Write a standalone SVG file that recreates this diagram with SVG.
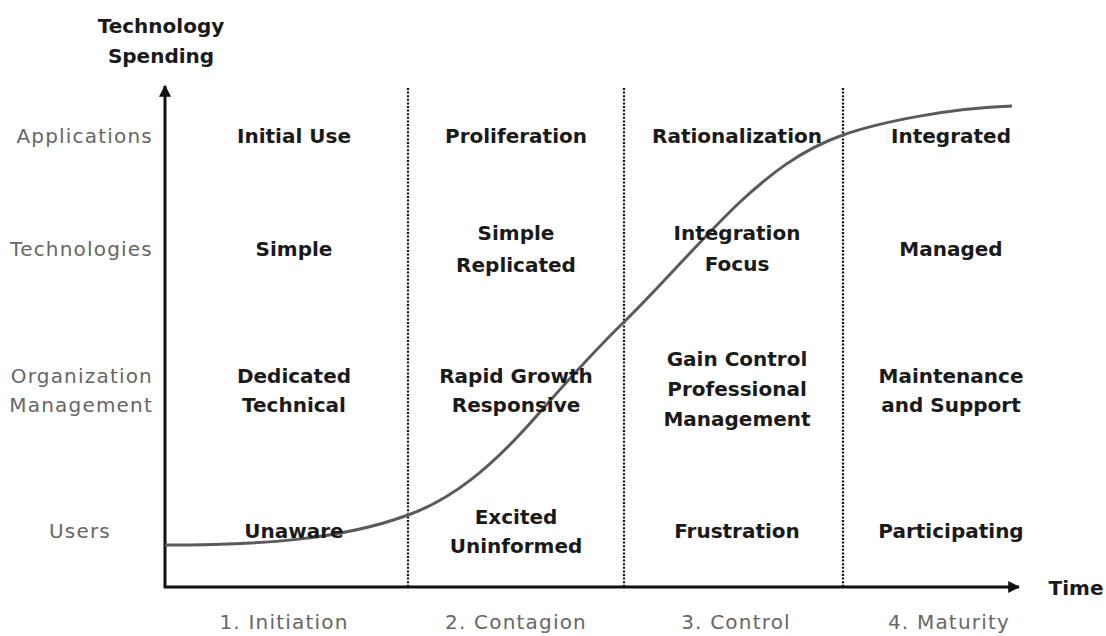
<svg xmlns="http://www.w3.org/2000/svg" width="1106" height="636" viewBox="0 0 1106 636">
<style>
.lbl{font-family:"DejaVu Sans",Verdana,sans-serif;font-size:20px;fill:#666;letter-spacing:1.2px}
.b{font-family:"DejaVu Sans",Verdana,sans-serif;font-size:20px;font-weight:bold;fill:#1a1a1a;text-anchor:middle}
.axis{stroke:#111;stroke-width:3;fill:none}
.dot{stroke:#111;stroke-width:2.2;stroke-dasharray:2 1.6;fill:none}
</style>
<defs>
<marker id="ah" viewBox="0 0 10 10" refX="9" refY="5" markerWidth="4" markerHeight="4" orient="auto" markerUnits="strokeWidth">
<path d="M0,0 L10,5 L0,10 z" fill="#111"/>
</marker>
</defs>
<rect width="1106" height="636" fill="#fff"/>
<g id="connectors">
<line class="dot" x1="408" y1="88" x2="408" y2="586"/>
<line class="dot" x1="624" y1="88" x2="624" y2="586"/>
<line class="dot" x1="843" y1="88" x2="843" y2="586"/>
<line class="axis" x1="165" y1="588" x2="165" y2="86" marker-end="url(#ah)"/>
<line class="axis" x1="164" y1="587" x2="1019" y2="587" marker-end="url(#ah)"/>
<path d="M165,545 C260,545 340,540 408,515 C450,500 490,470 540,412 C570,378 595,350 623,323 C660,287 700,240 740,202 C768,176 800,150 843,135 C880,122 950,108 1012,106" fill="none" stroke="#5a5a5a" stroke-width="3"/>
</g>
<g id="axis-titles">
<text class="b" x="161" y="33">Technology</text>
<text class="b" x="161" y="63">Spending</text>
<text class="b" x="1076" y="595">Time</text>
</g>
<g id="row-labels">
<text class="lbl" x="153" y="143" text-anchor="end">Applications</text>
<text class="lbl" x="153" y="256" text-anchor="end">Technologies</text>
<text class="lbl" x="153" y="383" text-anchor="end">Organization</text>
<text class="lbl" x="153" y="412" text-anchor="end">Management</text>
<text class="lbl" x="80" y="538" text-anchor="middle">Users</text>
</g>
<g id="stage-labels">
<text class="lbl" x="284" y="629" text-anchor="middle">1. Initiation</text>
<text class="lbl" x="516" y="629" text-anchor="middle">2. Contagion</text>
<text class="lbl" x="736" y="629" text-anchor="middle">3. Control</text>
<text class="lbl" x="949" y="629" text-anchor="middle">4. Maturity</text>
</g>
<g id="col-initiation">
<text class="b" x="294" y="143">Initial Use</text>
<text class="b" x="294" y="256">Simple</text>
<text class="b" x="294" y="383">Dedicated</text>
<text class="b" x="294" y="412">Technical</text>
<text class="b" x="294" y="538">Unaware</text>
</g>
<g id="col-contagion">
<text class="b" x="516" y="143">Proliferation</text>
<text class="b" x="516" y="240">Simple</text>
<text class="b" x="516" y="272">Replicated</text>
<text class="b" x="516" y="383">Rapid Growth</text>
<text class="b" x="516" y="412">Responsive</text>
<text class="b" x="516" y="524">Excited</text>
<text class="b" x="516" y="553">Uninformed</text>
</g>
<g id="col-control">
<text class="b" x="737" y="143">Rationalization</text>
<text class="b" x="737" y="240">Integration</text>
<text class="b" x="737" y="271">Focus</text>
<text class="b" x="737" y="366">Gain Control</text>
<text class="b" x="737" y="396">Professional</text>
<text class="b" x="737" y="426">Management</text>
<text class="b" x="737" y="538">Frustration</text>
</g>
<g id="col-maturity">
<text class="b" x="951" y="143">Integrated</text>
<text class="b" x="951" y="256">Managed</text>
<text class="b" x="951" y="383">Maintenance</text>
<text class="b" x="951" y="412">and Support</text>
<text class="b" x="951" y="538">Participating</text>
</g>
</svg>
